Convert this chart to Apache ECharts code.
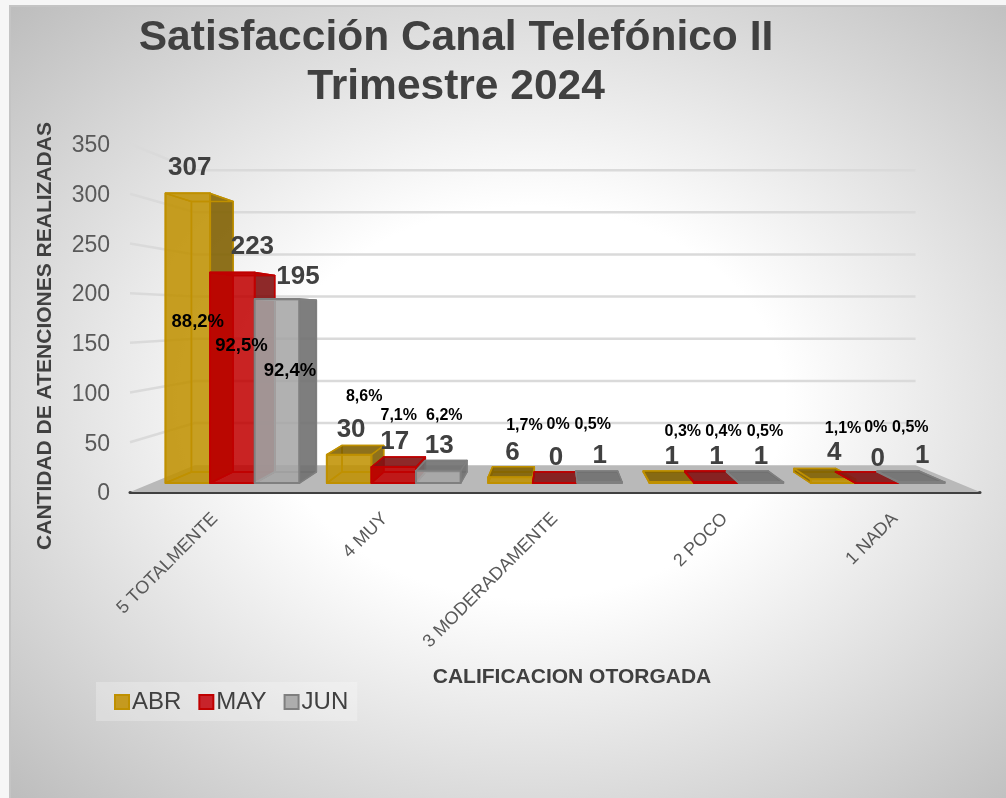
<!DOCTYPE html>
<html>
<head>
<meta charset="utf-8">
<style>
  html, body { margin: 0; height: 100%; background: #f6f6f6; overflow: hidden; }
  #panel {
    position: absolute; left: 9px; top: 5px; right: 0; bottom: 0;
    border-top: 2px solid #c4c4c4; border-left: 2px solid #c4c4c4;
    background: radial-gradient(ellipse farthest-corner at 52% 50%, #ffffff 0%, #ffffff 35%, #bdbdbd 100%);
  }
  #chart { position: absolute; left: 0; top: 0; width: 1006px; height: 798px; }
</style>
</head>
<body>
<div id="panel"></div>
<div id="chart"></div>
<script src="https://cdn.jsdelivr.net/npm/echarts@6/dist/echarts.min.js"></script>
<script>
const categories = ['5 TOTALMENTE', '4 MUY', '3 MODERADAMENTE', '2 POCO', '1 NADA']
const months = ['ABR', 'MAY', 'JUN']
const yTicks = [0, 50, 100, 150, 200, 250, 300, 350]

const abr = [307, 30, 6, 1, 4]
const may = [223, 17, 0, 1, 0]
const jun = [195, 13, 1, 1, 1]

const abrPct = ['88,2%', '8,6%', '1,7%', '0,3%', '1,1%']
const mayPct = ['92,5%', '7,1%', '0%', '0,4%', '0%']
const junPct = ['92,4%', '6,2%', '0,5%', '0,5%', '0,5%']

const values = [abr, may, jun]
const percents = [abrPct, mayPct, junPct]

// hand placed labels of the original, offset from the top of each bar
const countNudge = [
  [[2, -27], [2, -26], [2, -26], [0, -26], [1, -27]],
  [[20, -27], [1, -26], [1, -26], [0, -26], [0, -25]],
  [[21, -23], [1, -26], [0, -27], [0, -26], [0, -27]]
]
const pctNudge = [
  [[10, 128], [15, -59], [14, -53], [11, -51], [10, -52]],
  [[9, 72], [5, -52], [3, -59], [7, -51], [-2, -56]],
  [[13, 71], [6, -56], [-7, -58], [4, -51], [-12, -55]]
]

const palette = [
  { front: 'rgba(191,144,0,0.85)', dark: 'rgba(127,96,0,0.88)', inner: 'rgba(191,144,0,0.12)', back: 'rgba(191,144,0,0.1)', edge: '#bf9000', solid: '#c59a1f' },
  { front: 'rgba(192,0,0,0.85)', dark: 'rgba(130,20,20,0.9)', inner: 'rgba(170,10,0,0.6)', back: 'rgba(192,0,0,0.1)', edge: '#c00000', solid: '#c8232a' },
  { front: 'rgba(166,166,166,0.85)', dark: 'rgba(110,110,110,0.88)', inner: 'rgba(127,127,127,0.12)', back: 'rgba(127,127,127,0.1)', edge: '#7f7f7f', solid: '#adadad' }
]

// the picture is a 3D chart: everything is pulled toward one vanishing point
const VP = [556, 316]
const WALL_DEPTH = 0.848
const BAR_FRONT = 0.949
const BAR_BACK = 0.886
const BAR_RATIO = 47 / 170

function project(p, s) {
  return [VP[0] + (p[0] - VP[0]) * s, VP[1] + (p[1] - VP[1]) * s]
}

function face(points, fill, stroke, lineWidth) {
  return {
    type: 'polygon',
    shape: { points: points },
    style: { fill: fill, stroke: stroke, lineWidth: lineWidth, lineJoin: 'round' },
    silent: true
  }
}

function renderWall(params, api) {
  const v = api.value(1)
  const band = api.size([1, 0])[0]
  const p = api.coord([0, v])
  const left = [p[0] - band / 2, p[1]]
  const right = [api.coord([categories.length - 1, v])[0] + band / 2, p[1]]
  const backLeft = project(left, WALL_DEPTH)
  const backRight = project(right, WALL_DEPTH)
  const children = []
  if (v === 0) {
    children.push(face([left, right, backRight, backLeft], '#b9b9b9', 'none', 0))
  } else {
    const line = { stroke: '#dadada', lineWidth: 2.5 }
    children.push({ type: 'polyline', shape: { points: [left, backLeft, backRight] }, style: Object.assign({ fill: 'none' }, line), silent: true })
  }
  return { type: 'group', children: children }
}

function barCorners(api, i) {
  const cat = api.value(0)
  const base = api.coord([cat, 0])
  const top = api.coord([cat, api.value(1)])
  const w = api.size([1, 0])[0] * BAR_RATIO
  const x0 = base[0] + (i - 1.5) * w
  const x1 = x0 + w
  return {
    fbl: project([x0, base[1]], BAR_FRONT),
    fbr: project([x1, base[1]], BAR_FRONT),
    ftl: project([x0, top[1]], BAR_FRONT),
    ftr: project([x1, top[1]], BAR_FRONT),
    bbl: project([x0, base[1]], BAR_BACK),
    bbr: project([x1, base[1]], BAR_BACK),
    btl: project([x0, top[1]], BAR_BACK),
    btr: project([x1, top[1]], BAR_BACK)
  }
}

function makeBarRenderer(i) {
  const c = palette[i]
  return function(params, api) {
    const b = barCorners(api, i)
    const leftOut = b.ftl[0] > VP[0]
    const rightOut = b.ftr[0] < VP[0]
    const topOut = b.ftl[1] > VP[1]
    return {
      type: 'group',
      children: [
        face([b.bbl, b.bbr, b.btr, b.btl], c.back, c.edge, 1.5),
        face([b.fbl, b.fbr, b.bbr, b.bbl], c.back, c.edge, 1.5),
        face([b.fbl, b.bbl, b.btl, b.ftl], leftOut ? c.dark : c.inner, c.edge, 1.5),
        face([b.fbr, b.bbr, b.btr, b.ftr], rightOut ? c.dark : c.inner, c.edge, 1.5),
        face([b.ftl, b.ftr, b.btr, b.btl], topOut ? c.dark : c.inner, c.edge, 1.5),
        face([b.fbl, b.fbr, b.ftr, b.ftl], c.front, c.edge, 2)
      ]
    }
  }
}

function renderLabels(params, api) {
  const i = api.value(2)
  const cat = api.value(0)
  const val = api.value(1)
  const b = barCorners(api, i)
  const x = (b.ftl[0] + b.ftr[0]) / 2
  const y = b.ftl[1]
  const cn = countNudge[i][cat]
  const pn = pctNudge[i][cat]
  return {
    type: 'group',
    children: [
      {
        type: 'text',
        silent: true,
        style: {
          x: x + cn[0], y: y + cn[1] + 1, text: String(val), align: 'center', verticalAlign: 'middle',
          fill: '#404040', font: 'bold 26px "Liberation Sans", Arial, sans-serif'
        }
      },
      {
        type: 'text',
        silent: true,
        style: {
          x: x + pn[0], y: y + pn[1] + 1, text: percents[i][cat], align: 'center', verticalAlign: 'middle',
          fill: '#000000', font: 'bold ' + (val > 100 ? 18.5 : 16) + 'px "Liberation Sans", Arial, sans-serif'
        }
      }
    ]
  }
}

const labelData = []
values.forEach(function(list, i) {
  list.forEach(function(v, k) {
    labelData.push([k, v, i])
  })
})

const barSeries = months.map(function(name, i) {
  return {
    name: name,
    type: 'custom',
    z: 3 + i,
    itemStyle: { color: palette[i].solid, borderColor: palette[i].edge, borderWidth: 2 },
    renderItem: makeBarRenderer(i),
    encode: { x: 0, y: 1 },
    data: values[i].map(function(v, k) { return [k, v] })
  }
})

const chart = echarts.init(document.getElementById('chart'), null, { renderer: 'canvas' })
chart.setOption({
  animation: false,
  backgroundColor: 'transparent',
  textStyle: { fontFamily: '"Liberation Sans", Arial, sans-serif' },
  title: {
    text: 'Satisfacción Canal Telefónico II\nTrimestre 2024',
    left: 451,
    top: 9,
    textAlign: 'center',
    textStyle: { color: '#404040', fontSize: 42.5, fontWeight: 'bold', lineHeight: 49 }
  },
  legend: {
    data: months,
    left: 96,
    top: 682,
    padding: [8, 9, 7, 18],
    backgroundColor: 'rgba(255,255,255,0.25)',
    icon: 'rect',
    itemWidth: 14,
    itemHeight: 14,
    itemGap: 17,
    textStyle: { color: '#404040', fontSize: 24, padding: [0, 0, 0, -2] }
  },
  grid: { left: 130, top: 144, width: 850, height: 348, containLabel: false },
  xAxis: {
    type: 'category',
    data: categories,
    name: 'CALIFICACION OTORGADA',
    nameLocation: 'middle',
    nameGap: 175,
    nameTextStyle: { color: '#404040', fontSize: 21, fontWeight: 'bold', padding: [0, 0, 0, 34] },
    axisTick: { show: false },
    axisLine: { lineStyle: { color: '#404040', width: 3 } },
    axisLabel: { rotate: 45, interval: 0, margin: 24, color: '#595959', fontSize: 18 }
  },
  yAxis: {
    type: 'value',
    min: 0,
    max: 350,
    interval: 50,
    name: 'CANTIDAD DE ATENCIONES REALIZADAS',
    nameLocation: 'middle',
    nameGap: 74,
    nameTextStyle: { color: '#404040', fontSize: 21, fontWeight: 'bold', padding: [0, 0, 0, -36] },
    splitLine: { show: false },
    axisLine: { show: false },
    axisTick: { show: false },
    axisLabel: {
      margin: 20,
      formatter: '{t|{value}}',
      rich: { t: { color: '#595959', fontSize: 23, padding: [4, 0, 0, 0] } }
    }
  },
  series: [
    {
      name: 'pared',
      type: 'custom',
      z: 1,
      renderItem: renderWall,
      encode: { x: 0, y: 1 },
      data: yTicks.map(function(v) { return [0, v] })
    }
  ].concat(barSeries, [
    {
      name: 'etiquetas',
      type: 'custom',
      z: 10,
      renderItem: renderLabels,
      encode: { x: 0, y: 1 },
      data: labelData
    }
  ])
})
</script>
</body>
</html>
